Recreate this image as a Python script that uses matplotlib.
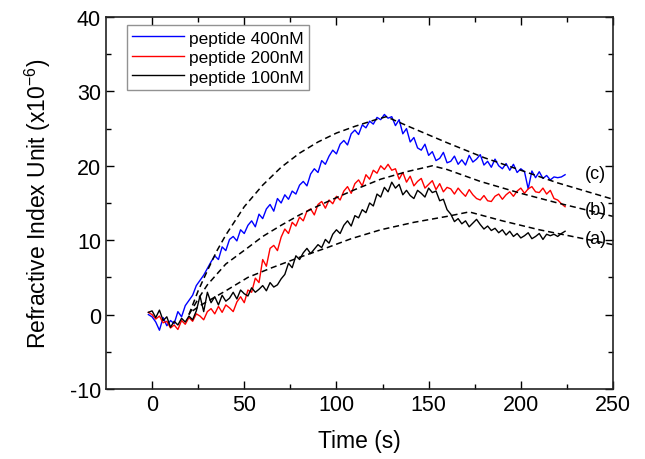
import numpy as np
import matplotlib
matplotlib.use('Agg')
import matplotlib.pyplot as plt

plt.rcParams['font.family'] = ['Liberation Sans', 'DejaVu Sans']
plt.rcParams['axes.unicode_minus'] = False

# measured traces, one point every 2 s from -2 s to 224 s
time = np.arange(-2, 225, 2)

ri_400 = [0.0, -0.3, -1.0, -2.1, -0.4, -1.5, -0.8, -1.2, 0.4, -0.3,
          1.2, 1.9, 2.6, 3.9, 4.6, 5.3, 6.2, 7.1, 7.9, 7.4,
          9.1, 8.6, 10.1, 10.5, 9.9, 11.4, 10.9, 12.0, 12.6, 11.8,
          13.5, 12.9, 14.2, 14.8, 13.9, 15.6, 15.0, 16.1, 15.5, 16.6,
          16.2, 17.4, 17.9, 17.3, 18.9, 19.6, 19.1, 20.7, 20.2, 21.3,
          22.1, 21.6, 22.9, 23.4, 22.8, 24.3, 24.8, 24.2, 25.5, 25.1,
          26.0, 25.6, 26.5, 26.2, 26.9, 26.4, 26.6, 25.4, 26.2, 24.3,
          25.0, 23.2, 23.8, 22.4, 22.1, 22.9,
          21.4, 21.9, 20.7, 21.0, 21.8, 20.4, 20.6, 21.3, 20.2, 20.8,
          20.1, 21.4, 20.5, 20.9, 21.5, 20.1, 20.6, 19.8, 20.9, 20.0,
          19.6, 20.3, 19.4, 20.2, 19.1, 19.6, 19.2, 16.9, 19.3, 18.4,
          19.2, 18.3, 18.7, 18.1, 18.5, 18.4, 18.5, 18.8]

ri_200 = [0.3, 0.0, -0.6, -0.2, -1.1, -0.9, -1.8, -1.4, -2.0, -0.8,
          -1.3, -0.4, -0.9, 0.1, -0.2, -0.7, 0.4, 0.8, 0.1, 1.1,
          0.3, 1.3, 0.9, 0.4, 1.7, 2.4, 1.6, 3.3, 3.0, 4.9,
          4.3, 7.4, 6.5, 8.9, 9.3, 8.6, 10.4, 11.5, 10.9, 12.4,
          11.9, 13.1, 12.6, 13.9, 14.2, 13.4, 14.8, 15.2, 14.3, 15.4,
          14.9, 15.9, 15.4, 16.6, 17.2, 16.3, 17.6, 18.1, 17.3, 18.8,
          18.2, 19.4, 19.0, 20.0, 19.5, 20.2, 19.4, 19.6, 18.2, 19.1,
          17.8, 18.6, 17.3, 17.9, 18.3, 17.0, 17.5, 18.0, 16.8, 17.6,
          16.5, 17.1, 16.9, 16.2, 17.0, 16.4, 15.9, 16.8, 16.1, 15.6,
          15.4, 16.0, 15.3, 15.2, 15.9, 16.2, 15.5, 16.1, 16.5, 15.9,
          16.6, 17.0, 16.3, 16.9, 17.2, 16.5, 16.4, 17.0, 16.2, 16.7,
          15.6, 15.4, 14.9, 14.5]

ri_100 = [0.3, 0.5, -0.4, 0.6, -0.8, -0.3, -1.7, -0.9, -1.4, -0.5,
          -1.0, -0.2, -0.7, 0.5, 2.5, 0.4, 3.0, 1.6, 2.4, 1.3,
          2.6, 1.8, 2.2, 3.0, 2.1, 3.3, 2.8, 2.5, 3.6, 3.0,
          3.4, 3.9, 3.2, 4.3, 3.7, 4.0, 4.8, 5.4, 6.9, 6.3,
          7.9, 7.4, 8.3, 8.9, 8.2, 8.8, 9.4, 9.0, 10.1, 9.6,
          10.8, 11.4, 10.9, 12.0, 12.6, 11.9, 13.3, 13.0, 14.1, 13.7,
          15.0, 14.6, 16.2, 15.8, 17.1, 16.5, 17.8, 17.0, 17.5, 16.1,
          16.7, 16.0, 15.6, 16.7, 16.3, 15.8, 17.0, 16.4, 16.6, 15.3,
          15.5, 14.1, 13.5, 12.5, 12.9, 12.2, 12.6, 11.8, 12.3, 12.8,
          12.1, 11.5, 11.9, 11.3, 11.6, 11.0, 11.4, 10.7, 11.2, 10.5,
          10.9, 10.3, 10.6, 11.0, 10.2, 10.5, 10.9, 10.1, 10.8, 10.6,
          10.8, 10.5, 10.9, 11.2]

# fitted association / dissociation curves (dashed)
fit_c_t = [20, 25, 30, 35, 40, 50, 60, 70, 80, 90, 100, 110, 120, 127, 140, 160, 180, 200, 220, 250]
fit_c_y = [0.0, 3.2, 5.9, 8.5, 10.7, 14.5, 17.4, 19.8, 21.7, 23.2, 24.4, 25.3, 26.1, 26.6, 25.2, 23.1, 21.1, 19.4, 17.7, 15.5]
fit_b_t = [20, 25, 30, 40, 52, 60, 70, 80, 90, 98, 110, 124, 138, 152, 160, 178, 200, 220, 250]
fit_b_y = [0.0, 2.1, 4.0, 6.8, 9.0, 10.5, 12.0, 13.4, 14.6, 15.5, 16.8, 18.2, 19.2, 20.0, 19.5, 17.9, 16.3, 15.0, 13.2]
fit_a_t = [22, 26, 40, 52, 65, 80, 95, 108, 124, 142, 160, 172, 178, 190, 210, 230, 250]
fit_a_y = [0.5, 1.2, 3.2, 5.0, 6.3, 7.7, 9.0, 10.2, 11.4, 12.4, 13.2, 13.8, 13.4, 12.6, 11.4, 10.4, 9.4]

curve_labels = ['(c)', '(b)', '(a)']
label_t = [235, 235, 235]
label_y = [19.0, 14.1, 10.2]

fig = plt.figure(figsize=(6.45, 4.6), dpi=100)
ax = fig.add_axes([0.1643, 0.1522, 0.7861, 0.8087])

ax.plot(time, ri_400, color='#0000ff', lw=1.0, label='peptide 400nM')
ax.plot(time, ri_200, color='#ff0000', lw=1.0, label='peptide 200nM')
ax.plot(time, ri_100, color='black', lw=1.0, label='peptide 100nM')

for ft, fy in [(fit_c_t, fit_c_y), (fit_b_t, fit_b_y), (fit_a_t, fit_a_y)]:
    ax.plot(ft, fy, color='black', lw=1.1, ls=(0, (4, 2.5)))

for lab, lt, ly in zip(curve_labels, label_t, label_y):
    ax.text(lt, ly, lab, fontsize=13, va='center', ha='left')

ax.set_xlim(-25, 250)
ax.set_ylim(-10, 40)
ax.set_xticks([0, 50, 100, 150, 200, 250])
ax.set_xticks([25, 75, 125, 175, 225], minor=True)
ax.set_yticks([-10, 0, 10, 20, 30, 40])
ax.set_yticks([-5, 5, 15, 25, 35], minor=True)
ax.tick_params(which='both', direction='in', top=True, right=True, labelsize=15.5, width=1.0)
ax.tick_params(which='major', length=6)
ax.tick_params(which='minor', length=3.5)
for s in ax.spines.values():
    s.set_linewidth(1.2)
    s.set_color('#222222')

ax.set_xlabel('Time (s)', fontsize=16.5, labelpad=10)
ax.set_ylabel('Refractive Index Unit (x10$^{\\mathregular{-6}}$)', fontsize=16.5, labelpad=12)

leg = ax.legend(loc='upper left', bbox_to_anchor=(0.041, 0.978), borderaxespad=0,
                fontsize=12.5, fancybox=False, handlelength=3.0, handletextpad=0.3,
                labelspacing=0.25, borderpad=0.3)
leg.get_frame().set_edgecolor('#777777')
leg.get_frame().set_linewidth(1.0)

plt.savefig('out.png', dpi=100)
